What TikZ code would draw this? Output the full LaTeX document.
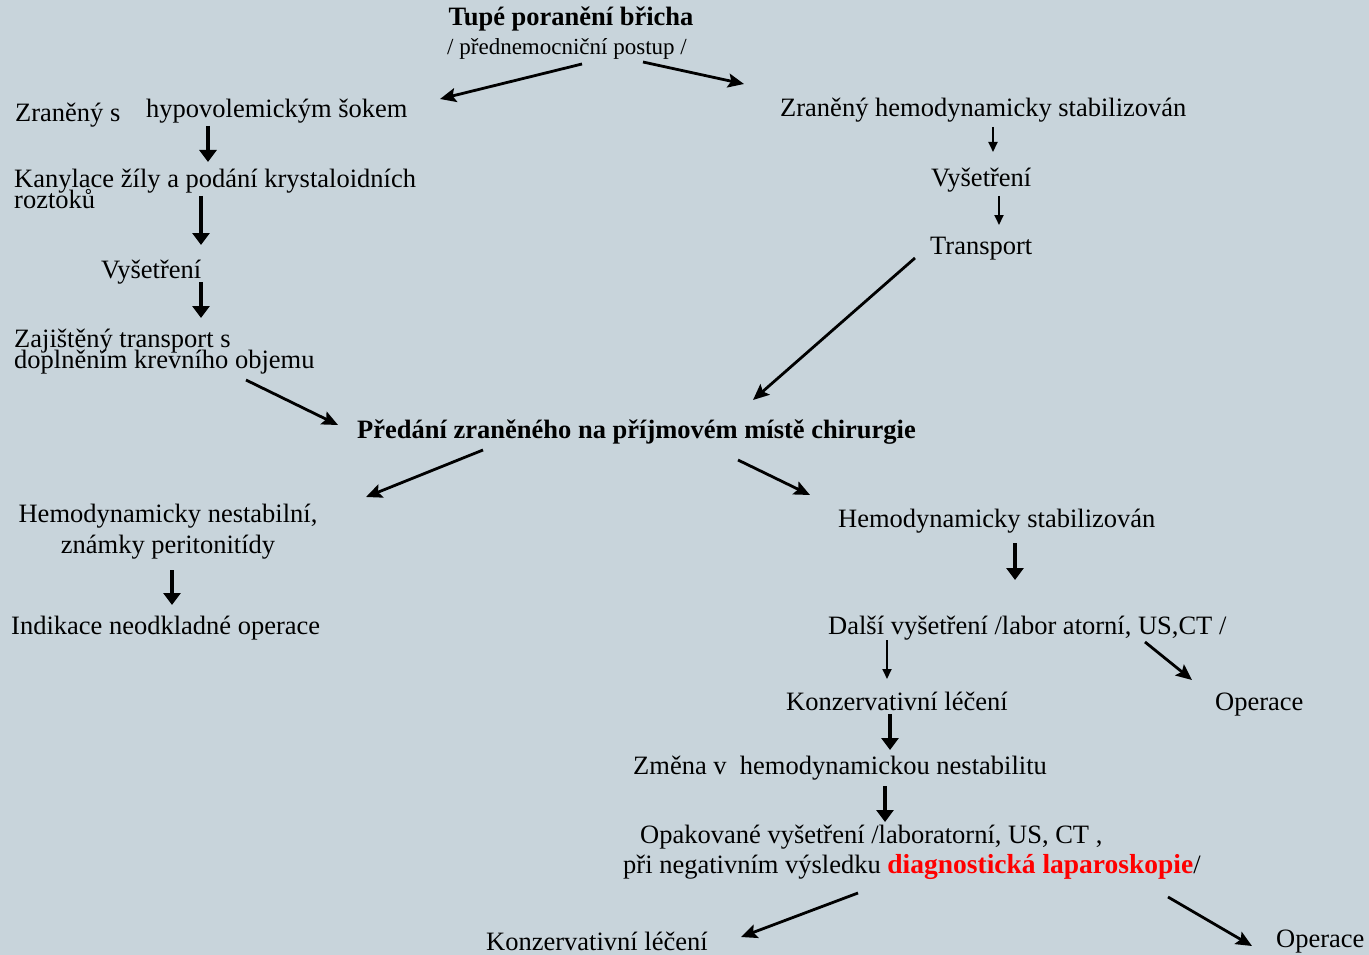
\documentclass[tikz,border=0pt]{standalone}
\usepackage{fontspec}
\setmainfont{Liberation Serif}
\usetikzlibrary{arrows.meta,calc}
\definecolor{slidebg}{RGB}{200,212,219}
\definecolor{hired}{RGB}{255,0,0}
\setlength{\lineskiplimit}{-50pt}

\begin{document}
\begin{tikzpicture}[x=1pt,y=-1pt,
		txt/.style={inner sep=0pt,font=\fontsize{26.5}{21}\selectfont},
		boldtxt/.style={txt,font=\fontsize{26.5}{21}\selectfont\bfseries},
		arr/.style={line width=3.5pt,-{Triangle[length=12pt,width=17pt]}},
		thinarr/.style={line width=1.8pt,-{Triangle[length=10pt,width=9pt]}},
		diagarr/.style={line width=2.8pt,-{Stealth[length=16pt,width=14pt,inset=3pt]}}]
		\useasboundingbox (0,0) rectangle (1369,955);
		\fill [slidebg] (0,0) rectangle (1369,955);
		% prednemocnicni cast
		\node [boldtxt, anchor=base] (title) at (571,26) {Tupé poranění břicha};
		\node [txt, anchor=base, font=\fontsize{23}{21}\selectfont] (sub) at (567,55) {/ přednemocniční postup /};
		\node [txt, anchor=base west] (zran) at (15,122) {Zraněný s};
		\node [txt, anchor=base west] (hypo) at (146,118) {hypovolemickým šokem};
		\node [txt, anchor=base west, align=left] (kanyl) at (14,208) {Kanylace žíly a podání krystaloidních\\roztoků};
		\node [txt, anchor=base west] (vys1) at (101,278) {Vyšetření};
		\node [txt, anchor=base west, align=left] (zaj) at (14,368) {Zajištěný transport s\\doplněním krevního objemu};
		\node [txt, anchor=base west] (zr2) at (780,117) {Zraněný hemodynamicky stabilizován};
		\node [txt, anchor=base west] (vys2) at (931,186) {Vyšetření};
		\node [txt, anchor=base west] (transp) at (930,254) {Transport};
		% chirurgie
		\node [boldtxt, anchor=base west] (predani) at (357,438) {Předání zraněného na příjmovém místě chirurgie};
		\node [txt, anchor=base, align=center] (hnest) at (168,553) {Hemodynamicky nestabilní,\\[10pt]známky peritonitídy};
		\node [txt, anchor=base west] (indik) at (11,634) {Indikace neodkladné operace};
		\node [txt, anchor=base west] (hstab) at (838,527) {Hemodynamicky stabilizován};
		\node [txt, anchor=base west] (dalsi) at (828,634) {Další vyšetření /labor atorní, US,CT /};
		\node [txt, anchor=base west] (konz1) at (786,710) {Konzervativní léčení};
		\node [txt, anchor=base west] (oper1) at (1215,710) {Operace};
		\node [txt, anchor=base west] (zmena) at (633,774) {Změna v\ \ hemodynamickou nestabilitu};
		\node [txt, anchor=base west, align=left] (opak) at (623,873) {\hspace*{17pt}Opakované vyšetření /laboratorní, US, CT ,\\[9pt]při negativním výsledku {\fontsize{27.5}{21}\selectfont\bfseries\color{hired}diagnostická laparoskopie}/};
		\node [txt, anchor=base west] (konz2) at (486,950) {Konzervativní léčení};
		\node [txt, anchor=base west] (oper2) at (1276,947) {Operace};
		% sipky
		\draw [diagarr] ($(sub.base)+(15,9)$) -- ($(hypo.base west)+(294,-19)$);
		\draw [diagarr] ($(sub.base)+(76,7)$) -- ($(zr2.base west)+(-36,-33)$);
		\draw [arr] ($(hypo.base west)+(62,8)$) -- ($(kanyl.base west)+(194,-46)$);
		\draw [arr] ($(kanyl.base west)+(187,-12)$) -- ($(vys1.base west)+(100,-33)$);
		\draw [arr] ($(vys1.base west)+(100,4)$) -- ($(zaj.base west)+(187,-50)$);
		\draw [diagarr] ($(zaj.base west)+(232,12)$) -- ($(predani.base west)+(-19,-13)$);
		\draw [thinarr] ($(zr2.base west)+(213,10)$) -- ($(vys2.base west)+(62,-34)$);
		\draw [thinarr] ($(vys2.base west)+(68,10)$) -- ($(transp.base west)+(69,-29)$);
		\draw [diagarr] ($(transp.base west)+(-15,4)$) -- ($(predani.base west)+(396,-38)$);
		\draw [diagarr] ($(predani.base west)+(126,12)$) -- ($(hnest.base)+(198,-56)$);
		\draw [diagarr] ($(predani.base west)+(381,22)$) -- ($(hstab.base west)+(-28,-32)$);
		\draw [arr] ($(hnest.base)+(4,17)$) -- ($(indik.base west)+(161,-29)$);
		\draw [arr] ($(hstab.base west)+(177,16)$) -- ($(dalsi.base west)+(187,-54)$);
		\draw [thinarr] ($(dalsi.base west)+(59,6)$) -- ($(konz1.base west)+(101,-31)$);
		\draw [diagarr] ($(dalsi.base west)+(317,8)$) -- ($(oper1.base west)+(-23,-30)$);
		\draw [arr] ($(konz1.base west)+(104,4)$) -- ($(zmena.base west)+(257,-24)$);
		\draw [arr] ($(zmena.base west)+(252,12)$) -- ($(opak.base west)+(262,-51)$);
		\draw [diagarr] ($(opak.base west)+(235,20)$) -- ($(konz2.base west)+(255,-13)$);
		\draw [diagarr] ($(opak.base west)+(545,24)$) -- ($(oper2.base west)+(-24,-1)$);
	\end{tikzpicture}
\end{document}
